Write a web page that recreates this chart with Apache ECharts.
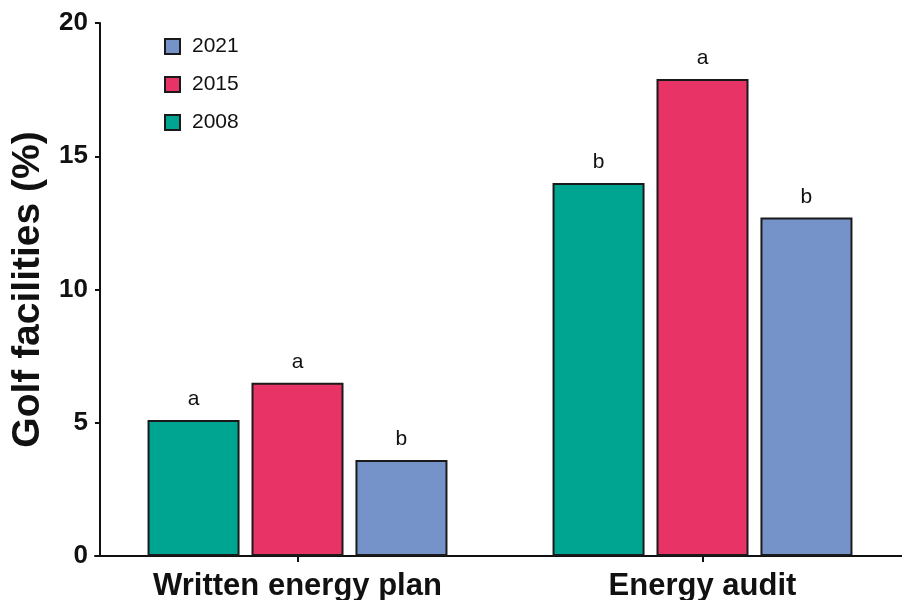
<!DOCTYPE html>
<html>
<head>
<meta charset="utf-8">
<script src="https://cdn.jsdelivr.net/npm/echarts@6/dist/echarts.min.js"></script>
<style>
  html, body { margin: 0; padding: 0; background: #fff; }
  #chart { width: 902px; height: 600px; }
</style>
</head>
<body>
<div id="chart"></div>
<script>
// Share of golf facilities with energy planning practices, by survey year
const categories = ['Written energy plan', 'Energy audit'];
const years = ['2008', '2015', '2021'];
const values2008 = [5.1, 14.0];
const values2015 = [6.5, 17.9];
const values2021 = [3.6, 12.7];
const letters2008 = ['a', 'b'];
const letters2015 = ['a', 'a'];
const letters2021 = ['b', 'b'];
const yTicks = [0, 5, 10, 15, 20];

const colors = { '2008': '#00a592', '2015': '#e83366', '2021': '#7593c8' };
const FONT = '"Liberation Sans", Arial, Helvetica, sans-serif';

function makeSeries(name, values, letters) {
  return {
    name: name,
    type: 'bar',
    data: values,
    barWidth: 92,
    barGap: '13%',
    itemStyle: { color: colors[name], borderColor: '#1a1a1a', borderWidth: 2 },
    label: {
      show: true,
      position: 'top',
      distance: 10,
      formatter: p => letters[p.dataIndex],
      fontFamily: FONT,
      fontSize: 21,
      color: '#111'
    },
    emphasis: { disabled: true }
  };
}

const chart = echarts.init(document.getElementById('chart'), null, { renderer: 'canvas' });
chart.setOption({
  animation: false,
  backgroundColor: '#fff',
  textStyle: { fontFamily: FONT },
  grid: { left: 95, width: 810, top: 23, bottom: 44, containLabel: false, outerBoundsMode: 'none' },
  legend: {
    data: ['2021', '2015', '2008'],
    orient: 'vertical',
    left: 159,
    top: 31,
    icon: 'rect',
    itemWidth: 15,
    itemHeight: 15,
    itemGap: 17,
    textStyle: { fontFamily: FONT, fontSize: 21, color: '#111', padding: [0, 0, 0, 7] }
  },
  xAxis: {
    type: 'category',
    data: categories,
    axisLine: { lineStyle: { color: '#111', width: 2 } },
    axisTick: { show: true, alignWithLabel: true, length: 6, lineStyle: { color: '#111', width: 2 } },
    axisLabel: { fontFamily: FONT, fontSize: 31, fontWeight: 'bold', color: '#111', margin: 15 }
  },
  yAxis: {
    type: 'value',
    min: yTicks[0],
    max: yTicks[yTicks.length - 1],
    interval: 5,
    offset: -5,
    name: 'Golf facilities (%)',
    nameLocation: 'middle',
    nameGap: 44,
    nameTextStyle: { fontFamily: FONT, fontSize: 39, fontWeight: 'bold', color: '#111' },
    splitLine: { show: false },
    axisLine: { show: true, lineStyle: { color: '#111', width: 2 } },
    axisTick: { show: true, length: 5, lineStyle: { color: '#111', width: 2 } },
    axisLabel: { fontFamily: FONT, fontSize: 26, fontWeight: 'bold', color: '#111', margin: 12 }
  },
  series: [
    makeSeries('2008', values2008, letters2008),
    makeSeries('2015', values2015, letters2015),
    makeSeries('2021', values2021, letters2021)
  ]
});
</script>
</body>
</html>
